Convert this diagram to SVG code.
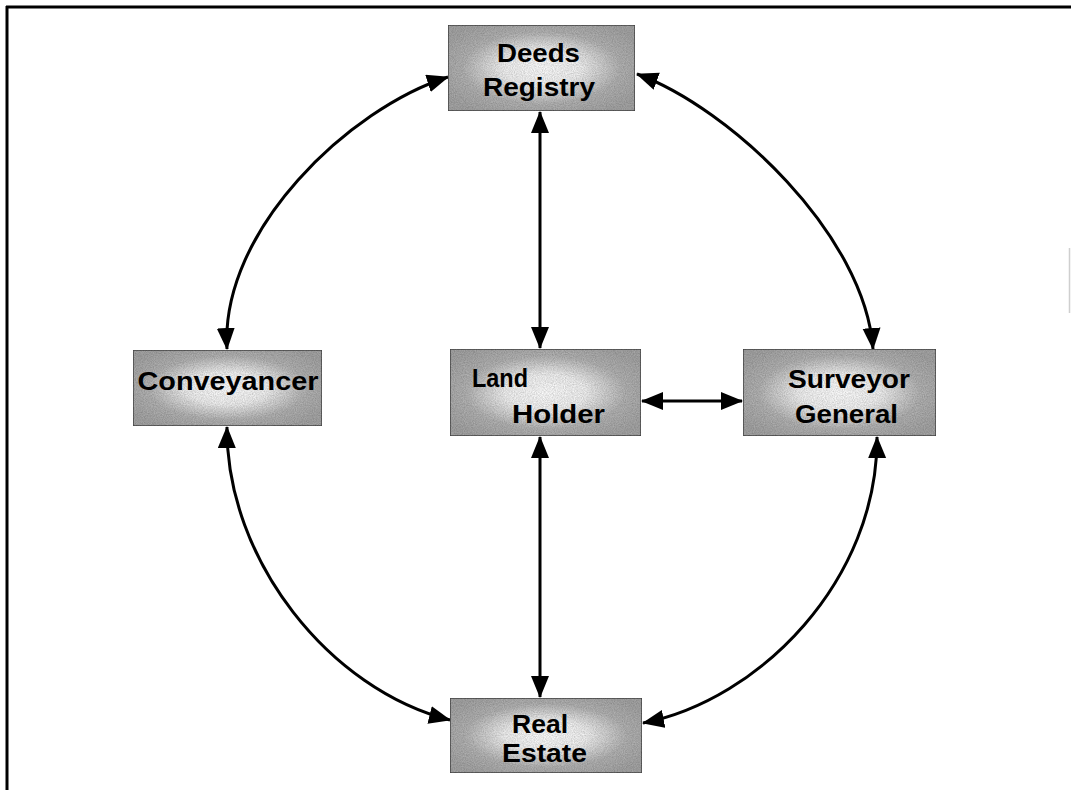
<svg xmlns="http://www.w3.org/2000/svg" width="1071" height="790" viewBox="0 0 1071 790">
<style>
.box{stroke:#4a4a4a;stroke-width:1.5;fill:url(#glow)}
.lbl{font-family:"Liberation Sans",Arial,sans-serif;font-weight:bold;font-size:26px;fill:#000}
.conn{fill:none;stroke:#000;stroke-width:3}
.frame{stroke:#000;stroke-width:3;fill:none}
</style>
<defs>
<radialGradient id="glow" cx="0.5" cy="0.5" r="0.6">
<stop offset="0" stop-color="#ffffff"/>
<stop offset="0.35" stop-color="#f2f2f2"/>
<stop offset="0.7" stop-color="#b4b4b4"/>
<stop offset="1" stop-color="#a6a6a6"/>
</radialGradient>
<filter id="speckle" x="0" y="0" width="1" height="1">
<feTurbulence type="fractalNoise" baseFrequency="0.9" numOctaves="2" seed="3" result="n"/>
<feColorMatrix in="n" type="matrix" values="0 0 0 0 0  0 0 0 0 0  0 0 0 0 0  0 0 0 -1.2 1.0" result="dots"/>
<feComposite in="dots" in2="SourceGraphic" operator="in" result="d2"/>
<feComponentTransfer in="d2" result="d3"><feFuncA type="linear" slope="0.45"/></feComponentTransfer>
<feMerge><feMergeNode in="SourceGraphic"/><feMergeNode in="d3"/></feMerge>
</filter>
<marker id="ah" markerUnits="userSpaceOnUse" markerWidth="24" markerHeight="20" refX="21" refY="9" orient="auto-start-reverse" viewBox="0 0 24 20">
<path d="M0,0 L22,9 L0,18 Z" fill="#000"/>
</marker>
</defs>
<rect width="1071" height="790" fill="#fff"/>
<g id="frame">
<path class="frame" d="M6,7 H1071 M7,6 V790"/>
<line x1="1069.5" y1="248" x2="1069.5" y2="313" stroke="#cfcfcf" stroke-width="1.5"/>
</g>
<g id="connectors">
<path class="conn" d="M540,112 V348" marker-start="url(#ah)" marker-end="url(#ah)"/>
<path class="conn" d="M540,437 V697" marker-start="url(#ah)" marker-end="url(#ah)"/>
<path class="conn" d="M642,401 H742" marker-start="url(#ah)" marker-end="url(#ah)"/>
<path class="conn" d="M637,74 C730,108 865,235 873,349" marker-start="url(#ah)" marker-end="url(#ah)"/>
<path class="conn" d="M448,77 C350,108 220,230 227,349" marker-start="url(#ah)" marker-end="url(#ah)"/>
<path class="conn" d="M227,427 C226,560 330,690 450,720" marker-start="url(#ah)" marker-end="url(#ah)"/>
<path class="conn" d="M877,437 C878,580 760,700 643,723" marker-start="url(#ah)" marker-end="url(#ah)"/>
</g>
<g id="deeds-registry">
<rect class="box" x="448" y="25" width="187" height="86" filter="url(#speckle)"/>
<text class="lbl" x="538.5" y="62" text-anchor="middle" textLength="83" lengthAdjust="spacingAndGlyphs">Deeds</text>
<text class="lbl" x="539" y="96" text-anchor="middle" textLength="112" lengthAdjust="spacingAndGlyphs">Registry</text>
</g>
<g id="conveyancer">
<rect class="box" x="133" y="350" width="189" height="76" filter="url(#speckle)"/>
<text class="lbl" x="228" y="390" text-anchor="middle" textLength="181" lengthAdjust="spacingAndGlyphs">Conveyancer</text>
</g>
<g id="land-holder">
<rect class="box" x="450" y="349" width="191" height="87" filter="url(#speckle)"/>
<text class="lbl" x="472" y="387" textLength="56" lengthAdjust="spacingAndGlyphs">Land</text>
<text class="lbl" x="512" y="423" textLength="93" lengthAdjust="spacingAndGlyphs">Holder</text>
</g>
<g id="surveyor-general">
<rect class="box" x="743" y="349" width="193" height="87" filter="url(#speckle)"/>
<text class="lbl" x="849" y="388" text-anchor="middle" textLength="122" lengthAdjust="spacingAndGlyphs">Surveyor</text>
<text class="lbl" x="846.5" y="423" text-anchor="middle" textLength="103" lengthAdjust="spacingAndGlyphs">General</text>
</g>
<g id="real-estate">
<rect class="box" x="450" y="698" width="192" height="75" filter="url(#speckle)"/>
<text class="lbl" x="540" y="733" text-anchor="middle" textLength="56" lengthAdjust="spacingAndGlyphs">Real</text>
<text class="lbl" x="544.5" y="762" text-anchor="middle" textLength="85" lengthAdjust="spacingAndGlyphs">Estate</text>
</g>
</svg>
